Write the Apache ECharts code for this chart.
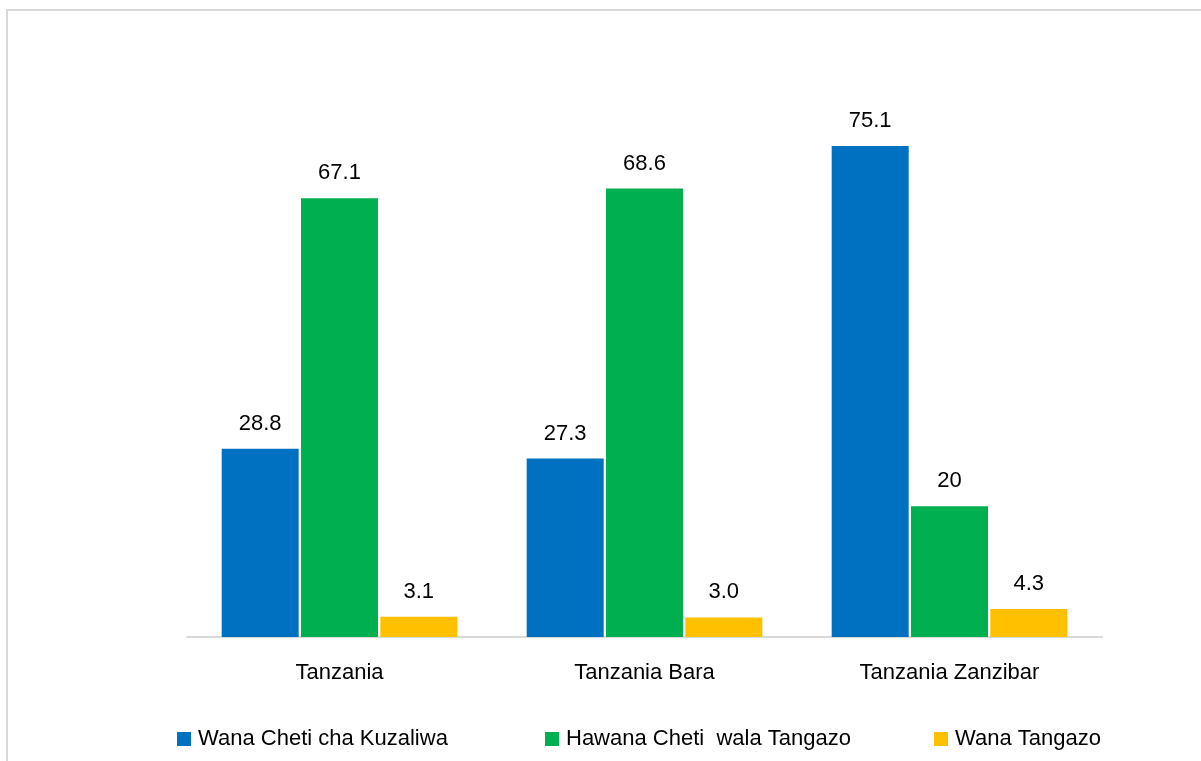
<!DOCTYPE html>
<html>
<head>
<meta charset="utf-8">
<script src="https://cdn.jsdelivr.net/npm/echarts@6/dist/echarts.min.js"></script>
<style>
  html, body { margin: 0; padding: 0; background: #fff; }
  #main { width: 1201px; height: 761px; }
</style>
</head>
<body>
<div id="main"></div>
<script>
// maeneo
const categories = ['Tanzania', 'Tanzania Bara', 'Tanzania Zanzibar']
const seriesNames = ['Wana Cheti cha Kuzaliwa', 'Hawana Cheti  wala Tangazo', 'Wana Tangazo']
// asilimia
const wanaCheti = [28.8, 27.3, 75.1]
const hawanaCheti = [67.1, 68.6, 20]
const wanaTangazo = [3.1, 3.0, 4.3]
// lebo za thamani
const labelsCheti = ['28.8', '27.3', '75.1']
const labelsHawana = ['67.1', '68.6', '20']
const labelsTangazo = ['3.1', '3.0', '4.3']

const colors = ['#0070C0', '#00B050', '#FFC000']
const FONT = "'Liberation Sans', Arial, sans-serif"

const chart = echarts.init(document.getElementById('main'))

function makeSeries(name, data, labels, color) {
  return {
    name: name,
    type: 'bar',
    data: data,
    barWidth: 77,
    barGap: '3%',
    itemStyle: { color: color },
    label: {
      show: true,
      position: 'top',
      distance: 14,
      color: '#000',
      fontSize: 22,
      fontFamily: FONT,
      formatter: function (p) { return labels[p.dataIndex] }
    }
  }
}

function legendAt(left, name) {
  return {
    left: left,
    top: 728,
    padding: 0,
    data: [name],
    icon: 'rect',
    itemWidth: 14,
    itemHeight: 14,
    itemGap: 7,
    textStyle: { fontSize: 22, fontFamily: FONT, color: '#000', padding: [0, 0, 0, 2] }
  }
}

chart.setOption({
  animation: false,
  color: colors,
  graphic: [{
    type: 'rect',
    shape: { x: 7, y: 10, width: 1300, height: 900 },
    style: { fill: 'none', stroke: '#d9d9d9', lineWidth: 2 },
    silent: true
  }],
  legend: [
    legendAt(177, seriesNames[0]),
    legendAt(545, seriesNames[1]),
    legendAt(934, seriesNames[2])
  ],
  grid: { left: 187, right: 99, top: 114, bottom: 124 },
  xAxis: {
    type: 'category',
    data: categories,
    axisLine: { lineStyle: { color: '#d9d9d9', width: 2 } },
    axisTick: { show: false },
    axisLabel: { color: '#000', fontSize: 22, fontFamily: FONT, margin: 25 }
  },
  yAxis: {
    type: 'value',
    min: 0,
    max: 80,
    show: false,
    splitLine: { show: false }
  },
  series: [
    makeSeries(seriesNames[0], wanaCheti, labelsCheti, colors[0]),
    makeSeries(seriesNames[1], hawanaCheti, labelsHawana, colors[1]),
    makeSeries(seriesNames[2], wanaTangazo, labelsTangazo, colors[2])
  ]
})
</script>
</body>
</html>
